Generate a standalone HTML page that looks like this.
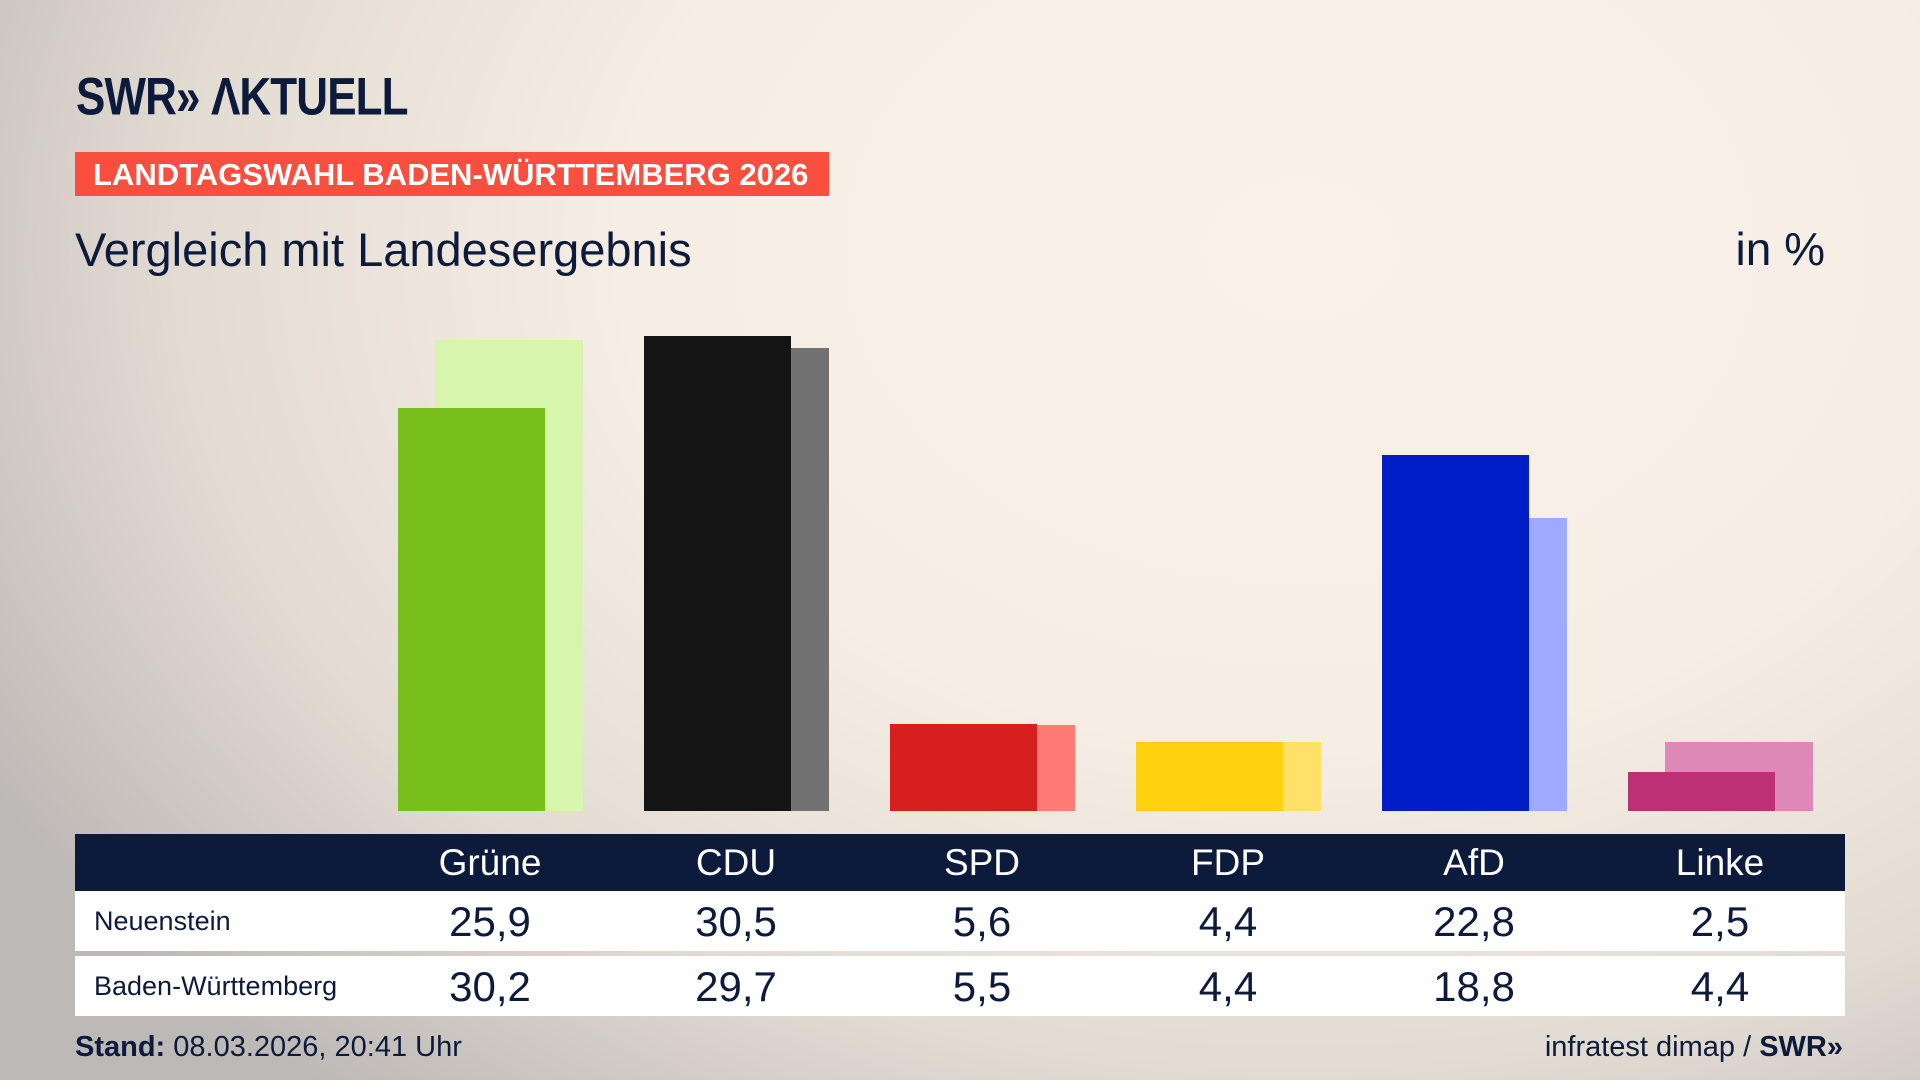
<!DOCTYPE html>
<html><head><meta charset="utf-8"><style>
*{margin:0;padding:0;box-sizing:border-box}
body{width:1920px;height:1080px;overflow:hidden;position:relative;font-family:"Liberation Sans",sans-serif;color:#0c1b3b;
background:radial-gradient(ellipse 1500px 1100px at 1300px 250px,#faf2e8 0%,#f6eee4 45%,#e2dbd2 75%,#bdb9b6 100%);}
.a{position:absolute}
.bar{position:absolute}
.lbl{position:absolute;width:246px;text-align:center;font-size:37px}
.v{position:absolute;width:246px;text-align:center;font-size:42px}
</style></head><body>
<div class="a" style="left:76px;top:66px;font-size:50px;font-weight:bold;letter-spacing:-1px;color:#0c1b3b;transform-origin:0 0;transform:scale(0.88,1.05)">SWR&#187; ΛKTUELL</div>
<div class="a" style="left:75px;top:152px;width:754px;height:44px;background:#fa4f3f;color:#fff;font-weight:bold;font-size:31px;line-height:46px;padding-left:18px;white-space:nowrap">LANDTAGSWAHL BADEN-WÜRTTEMBERG 2026</div>
<div class="a" style="left:75px;top:222px;font-size:47px">Vergleich mit Landesergebnis</div>
<div class="a" style="left:1725px;top:222px;font-size:46px;width:100px;text-align:right">in %</div>

<div class="bar" style="left:435px;top:340px;width:148px;height:471px;background:#d8f5ad"></div>
<div class="bar" style="left:398px;top:408px;width:147px;height:403px;background:#79bf1c"></div>
<div class="bar" style="left:681px;top:348px;width:148px;height:463px;background:#737272"></div>
<div class="bar" style="left:644px;top:336px;width:147px;height:475px;background:#141414"></div>
<div class="bar" style="left:927px;top:725px;width:148px;height:86px;background:#ff7b73"></div>
<div class="bar" style="left:890px;top:724px;width:147px;height:87px;background:#d71f1f"></div>
<div class="bar" style="left:1173px;top:742px;width:148px;height:69px;background:#ffe169"></div>
<div class="bar" style="left:1136px;top:742px;width:147px;height:69px;background:#ffd10f"></div>
<div class="bar" style="left:1419px;top:518px;width:148px;height:293px;background:#9eaaff"></div>
<div class="bar" style="left:1382px;top:455px;width:147px;height:356px;background:#001ec8"></div>
<div class="bar" style="left:1665px;top:742px;width:148px;height:69px;background:#de88b8"></div>
<div class="bar" style="left:1628px;top:772px;width:147px;height:39px;background:#be3075"></div>

<div class="a" style="left:75px;top:834px;width:1770px;height:57px;background:#0c1b3b"></div>
<div class="a" style="left:75px;top:891px;width:1770px;height:60px;background:#fff"></div>
<div class="a" style="left:75px;top:956px;width:1770px;height:60px;background:#fff"></div>
<div class="a" style="left:94px;top:906px;font-size:27px">Neuenstein</div>
<div class="a" style="left:94px;top:971px;font-size:27px">Baden-Württemberg</div>
<div style="color:#fff">
<div class="lbl" style="left:367px;top:842px">Grüne</div>
<div class="lbl" style="left:613px;top:842px">CDU</div>
<div class="lbl" style="left:859px;top:842px">SPD</div>
<div class="lbl" style="left:1105px;top:842px">FDP</div>
<div class="lbl" style="left:1351px;top:842px">AfD</div>
<div class="lbl" style="left:1597px;top:842px">Linke</div>
</div>
<div class="v" style="left:367px;top:898px">25,9</div><div class="v" style="left:613px;top:898px">30,5</div><div class="v" style="left:859px;top:898px">5,6</div><div class="v" style="left:1105px;top:898px">4,4</div><div class="v" style="left:1351px;top:898px">22,8</div><div class="v" style="left:1597px;top:898px">2,5</div>
<div class="v" style="left:367px;top:963px">30,2</div><div class="v" style="left:613px;top:963px">29,7</div><div class="v" style="left:859px;top:963px">5,5</div><div class="v" style="left:1105px;top:963px">4,4</div><div class="v" style="left:1351px;top:963px">18,8</div><div class="v" style="left:1597px;top:963px">4,4</div>

<div class="a" style="left:75px;top:1031px;font-size:29px"><b>Stand:</b> 08.03.2026, 20:41 Uhr</div>
<div class="a" style="left:1343px;top:1031px;font-size:29px;width:500px;text-align:right">infratest dimap / <b>SWR&#187;</b></div>
</body></html>
